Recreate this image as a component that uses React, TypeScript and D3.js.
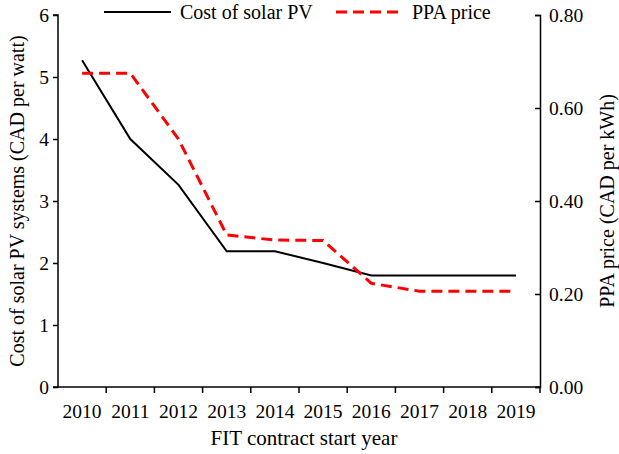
import { useEffect, useRef } from "react";
import * as d3 from "d3";

const years = ["2010", "2011", "2012", "2013", "2014", "2015", "2016", "2017", "2018", "2019"];
const pvCost = [5.27, 4.0, 3.26, 2.19, 2.19, 2.0, 1.8, 1.8, 1.8, 1.8];
const ppaPrice = [0.675, 0.675, 0.533, 0.327, 0.316, 0.315, 0.223, 0.206, 0.206, 0.206];
const leftTicks = [0, 1, 2, 3, 4, 5, 6];
const rightTicks = [0, 0.2, 0.4, 0.6, 0.8];

const FONT = "Liberation Serif";

const App = () => {
  const svgRef = useRef<SVGSVGElement>(null);

  useEffect(() => {
    const svg = d3.select(svgRef.current);
    svg.selectAll("*").remove();

    const left = 58;
    const right = 540;
    const top = 15;
    const bottom = 387;

    const x = d3.scaleBand().domain(years).range([left, right]).padding(0);
    const yL = d3.scaleLinear().domain([0, 6]).range([bottom, top]);
    const yR = d3.scaleLinear().domain([0, 0.8]).range([bottom, top]);
    const cx = (d: string) => (x(d) ?? 0) + x.bandwidth() / 2;

    // Left axis
    const gL = svg
      .append("g")
      .attr("transform", `translate(${left},0)`)
      .call(d3.axisLeft(yL).tickValues(leftTicks).tickFormat(d3.format("d")).tickSize(5).tickPadding(4));
    // Right axis (ticks point inward)
    const gR = svg
      .append("g")
      .attr("transform", `translate(${right},0)`)
      .call(d3.axisRight(yR).tickValues(rightTicks).tickFormat(d3.format(".2f")).tickSize(-5).tickPadding(9));
    // Bottom axis, ticks between categories
    const gB = svg
      .append("g")
      .attr("transform", `translate(0,${bottom})`)
      .call(d3.axisBottom(x).tickSize(0).tickPadding(17));
    gB.selectAll(".tick")
      .append("line")
      .attr("x1", x.bandwidth() / 2)
      .attr("x2", x.bandwidth() / 2)
      .attr("y1", 0)
      .attr("y2", 6)
      .attr("stroke", "#000")
      .attr("stroke-width", 1.5);

    [gL, gR, gB].forEach((g) => {
      g.attr("font-family", FONT).attr("font-size", 19.5);
      g.select(".domain").attr("stroke", "#000").attr("stroke-width", 1.5);
      g.selectAll(".tick line").attr("stroke-width", 1.5);
      g.selectAll("text").attr("fill", "#000");
    });
    gB.select(".domain").attr("d", `M${left},0H${right}`);
    gL.select(".domain").attr("d", `M-5,${top}H0V${bottom}H-5`);

    // Lines
    const pvLine = d3
      .line<number>()
      .x((_, i) => cx(years[i]))
      .y((d) => yL(d));
    const ppaLine = d3
      .line<number>()
      .x((_, i) => cx(years[i]))
      .y((d) => yR(d));

    svg.append("path").datum(pvCost).attr("d", pvLine).attr("fill", "none").attr("stroke", "#000").attr("stroke-width", 2);
    svg
      .append("path")
      .datum(ppaPrice)
      .attr("d", ppaLine)
      .attr("fill", "none")
      .attr("stroke", "#ff0000")
      .attr("stroke-width", 3)
      .attr("stroke-dasharray", "11,6");

    const text = (s: string, size = 20) =>
      svg.append("text").attr("font-family", FONT).attr("font-size", size).attr("fill", "#000").text(s);

    // Axis titles
    text("FIT contract start year", 21)
      .attr("x", 304)
      .attr("y", 445)
      .attr("text-anchor", "middle");
    text("Cost of solar PV systems (CAD per watt)")
      .attr("transform", `translate(24,${(top + bottom) / 2}) rotate(-90)`)
      .attr("text-anchor", "middle");
    text("PPA price (CAD per kWh)")
      .attr("transform", `translate(614,${(top + bottom) / 2}) rotate(-90)`)
      .attr("text-anchor", "middle");

    // Legend
    const legend = [
      { label: "Cost of solar PV", color: "#000", dash: null, width: 2, x0: 104 },
      { label: "PPA price", color: "#ff0000", dash: "11,6", width: 3, x0: 336 },
    ];
    legend.forEach((l) => {
      svg
        .append("line")
        .attr("x1", l.x0)
        .attr("x2", l.x0 + 67)
        .attr("y1", 12)
        .attr("y2", 12)
        .attr("stroke", l.color)
        .attr("stroke-width", l.width)
        .attr("stroke-dasharray", l.dash);
      text(l.label)
        .attr("x", l.x0 + 76)
        .attr("y", 18.5);
    });
  }, []);

  return (
    <svg
      ref={svgRef}
      width={619}
      height={454}
      style={{ position: "absolute", left: 0, top: 0, background: "#fff" }}
    />
  );
};

export default App;
